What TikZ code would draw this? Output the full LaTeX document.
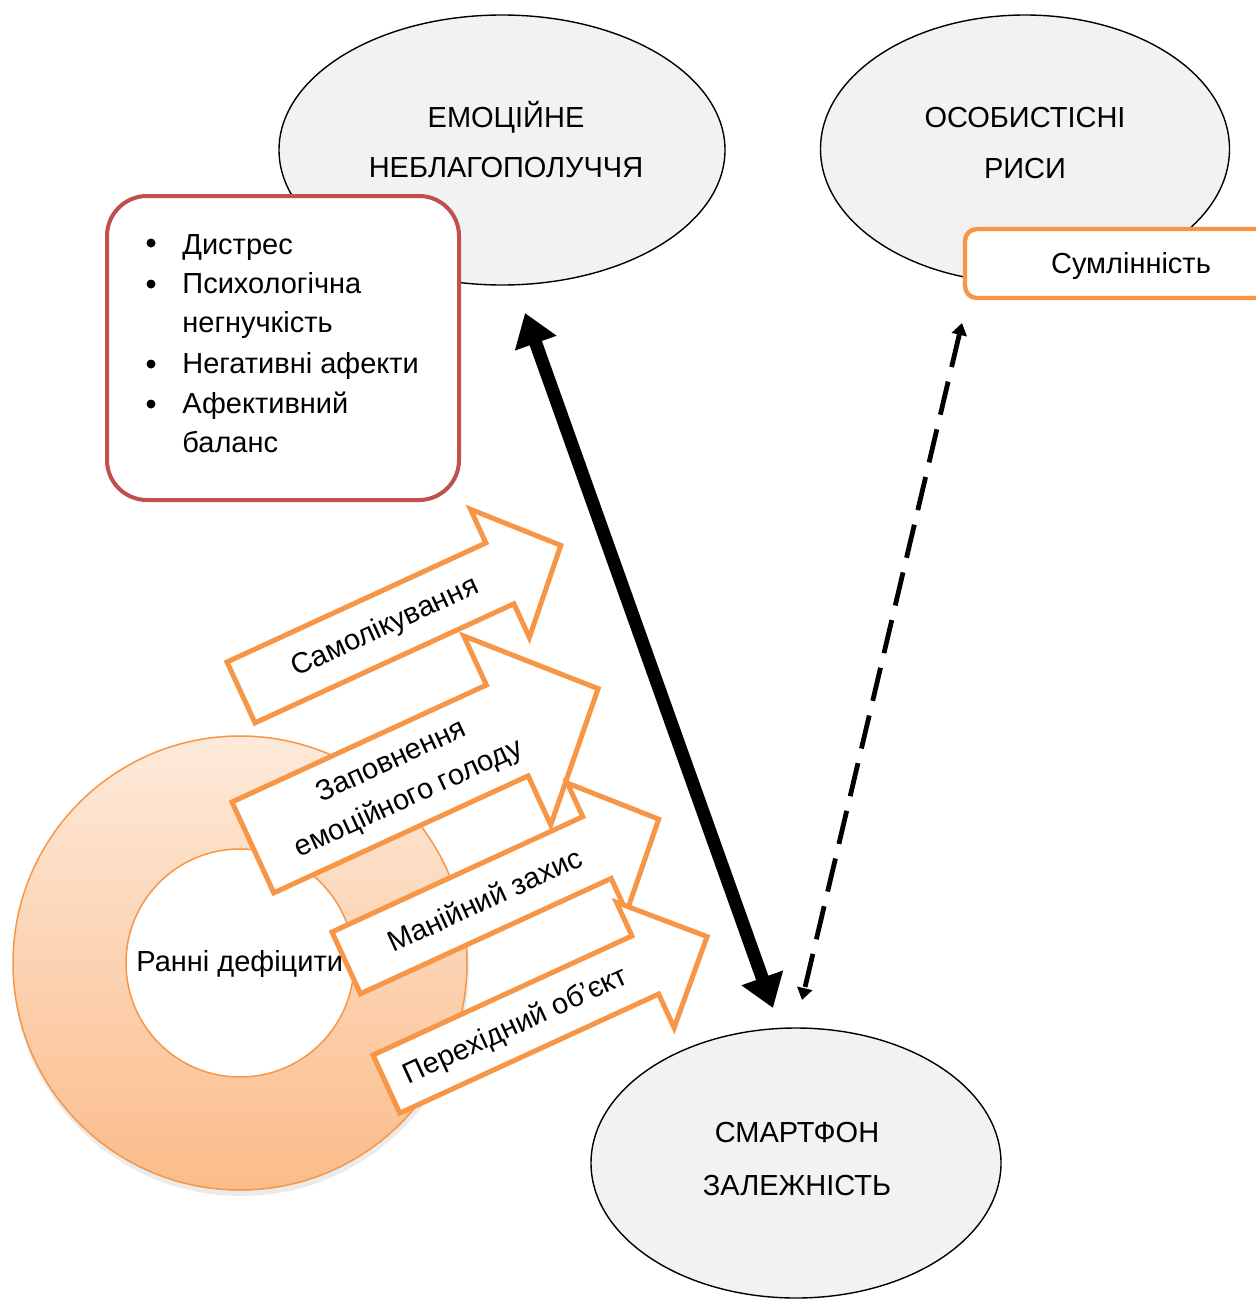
\documentclass[tikz,border=0pt]{standalone}
\usepackage{fontspec}
\setmainfont{Liberation Sans}
\usetikzlibrary{arrows.meta,shapes.geometric}
\definecolor{orng}{HTML}{F79646}
\definecolor{redb}{HTML}{C0504D}
\definecolor{ellfill}{HTML}{F2F2F2}
\definecolor{ringtop}{RGB}{253,234,218}
\definecolor{ringbot}{RGB}{251,188,138}
\begin{document}
\begin{tikzpicture}[x=0.5pt,y=-0.5pt,
  font=\fontsize{14.5}{17}\selectfont,
  ellip/.style={ellipse, draw=black, line width=0.7pt, fill=ellfill, inner sep=0pt},
  lbl/.style={anchor=base, inner sep=0pt},
  lblw/.style={anchor=base west, inner sep=0pt},
  barrow/.style={draw=orng, fill=white, line width=2.5pt, line join=miter},
  atext/.style={transform shape, align=center, inner sep=0pt},
  bul/.style={fill=black}]
\clip (0,0) rectangle (1256,1301);
\fill[white] (0,0) rectangle (1256,1301);

% ellipses
\node[ellip, minimum width=223pt, minimum height=135pt] (emo) at (502,150) {};
\node[ellip, minimum width=204.5pt, minimum height=134pt] (pers) at (1025,149) {};
\node[ellip, minimum width=205pt, minimum height=135pt] (smart) at (796,1163) {};
\node[lbl] (emo1) at (506,127.5) {ЕМОЦІЙНЕ};
\node[lbl] (emo2) at (506,177.5) {НЕБЛАГОПОЛУЧЧЯ};
\node[lbl] (pers1) at (1025,127.5) {ОСОБИСТІСНІ};
\node[lbl] (pers2) at (1025,178.5) {РИСИ};
\node[lbl] (smart1) at (797,1142.5) {СМАРТФОН};
\node[lbl] (smart2) at (797,1195.5) {ЗАЛЕЖНІСТЬ};

% red list box
\node[draw=redb, line width=2pt, fill=white, rounded corners=20pt,
      minimum width=176pt, minimum height=152pt] (redbox) at (283,348) {};
\fill[bul] (151,243) circle[radius=4.5];
\fill[bul] (151,284) circle[radius=4.5];
\fill[bul] (151,364) circle[radius=4.5];
\fill[bul] (151,404) circle[radius=4.5];
\node[lblw] (it1) at (182,254) {Дистрес};
\node[lblw] (it2) at (182,293) {Психологічна};
\node[lblw] (it2b) at (182,332) {негнучкість};
\node[lblw] (it3) at (182,373) {Негативні афекти};
\node[lblw] (it4) at (182,413) {Афективний};
\node[lblw] (it4b) at (182,452) {баланс};

% conscientiousness box
\node[draw=orng, line width=2.2pt, fill=white, rounded corners=6pt,
      minimum width=155pt, minimum height=34.5pt] (consc) at (1120,263.5) {};
\node[lbl] (consctext) at (1131,273.5) {Сумлінність};

% ring
\fill[black, opacity=0.08] (241,968) circle[radius=228];
\shade[top color=ringtop, bottom color=ringbot] (240,963) circle[radius=227];
\draw[orng, line width=0.75pt] (240,963) circle[radius=227];
\draw[orng, line width=0.75pt, fill=white] (240,963) circle[radius=114];
\node[lblw] (deftext) at (136,971) {Ранні дефіцити};

% block arrows
\begin{scope}[shift={(227,662)}, rotate=24.7]
  \draw[barrow] (0,0) -- (285,0) -- (285,-37) -- (352,33.5) -- (285,104) -- (285,67) -- (0,67) -- cycle;
  \node[atext] (a1) at (158,35) {Самолікування};
\end{scope}
\begin{scope}[shift={(232,802)}, rotate=24.7]
  \draw[barrow] (0,0) -- (280,0) -- (280,-54) -- (380,50) -- (280,154) -- (280,100) -- (0,100) -- cycle;
  \node[atext, font=\fontsize{14.5}{20.5}\selectfont] (a2) at (162,51) {Заповнення\\емоційного голоду};
\end{scope}
\begin{scope}[shift={(332,932)}, rotate=24.7]
  \draw[barrow] (0,0) -- (276,0) -- (276,-37) -- (344,34) -- (276,105) -- (276,68) -- (0,68) -- cycle;
  \node[atext] (a3) at (152,34) {Манійний захис};
\end{scope}
\begin{scope}[shift={(373,1055)}, rotate=24.7]
  \draw[barrow] (0,0) -- (285,0) -- (285,-37) -- (353,32) -- (285,101) -- (285,64) -- (0,64) -- cycle;
  \node[atext] (a4) at (142,34) {Перехідний об’єкт};
\end{scope}

% connectors
\coordinate (blkA) at (525,313);
\coordinate (blkB) at (773,1008);
\coordinate (dshA) at (962,323);
\coordinate (dshB) at (802,1000);
\draw[line width=6.5pt, {Triangle[length=16pt,width=21pt]}-{Triangle[length=16pt,width=21pt]}] (blkA) -- (blkB);
\draw[line width=2.4pt, dash pattern=on 17pt off 7.5pt, {Triangle[length=6pt,width=7.5pt]}-{Triangle[length=6pt,width=7.5pt]}] (dshA) -- (dshB);
\end{tikzpicture}
\end{document}
